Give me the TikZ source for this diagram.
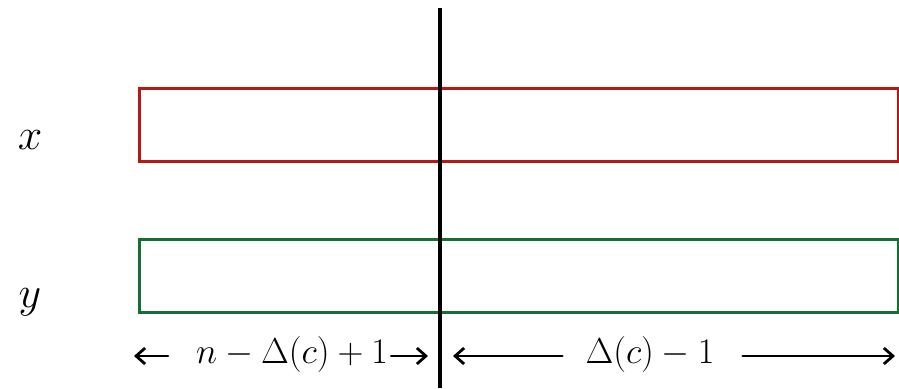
\RequirePackage{fix-cm}
\documentclass[tikz,border=0pt]{standalone}
\usepackage{amsmath,amssymb}
\usepackage{tikz}
\usetikzlibrary{arrows.meta,positioning,calc}
\usepackage{xcolor}
\definecolor{rowred}{RGB}{185,22,22}
\definecolor{rowgreen}{RGB}{18,112,52}

\begin{document}
\begin{tikzpicture}[
    x=1pt, y=-1pt,
    row/.style={draw, line width=3.2pt, rectangle, minimum width=759pt,
        minimum height=73pt, anchor=north west, inner sep=0pt},
    lbl/.style={font=\fontsize{44}{48}\selectfont, inner sep=1pt},
    dim/.style={font=\fontsize{36}{40}\selectfont, inner sep=3pt},
    arrow/.style={-{Straight Barb[length=9pt, width=16pt]}, line width=2.8pt, line cap=round},
]
\useasboundingbox (0,0) rectangle (899,388);

\node[row, rowred] (xrow) at (138,87) {};
\node[row, rowgreen] (yrow) at (138,238) {};

\node[lbl] (xlab) at (30,140) {$x$};
\node[lbl] (ylab) at (30,302) {$y$};

\coordinate (top) at (440,8);
\coordinate (bot) at (440,388);
\draw[line width=3.2pt] (top) -- (bot);

% dimensions below the rows
\node[dim] (left) at (292,354) {$n-\Delta(c)+1$};
\node[dim] (right) at (650,354) {$\Delta(c)-1$};

\coordinate (l1) at (134,356);
\coordinate (l2) at (428,356);
\coordinate (r1) at (453,356);
\coordinate (r2) at (895,356);

\draw[arrow] (168,356) -- (l1);
\draw[arrow] (left.east |- l2) -- (l2);
\draw[arrow] ($(right.west |- r1)+(-20,0)$) -- (r1);
\draw[arrow] ($(right.east |- r2)+(25,0)$) -- (r2);

\end{tikzpicture}
\end{document}
